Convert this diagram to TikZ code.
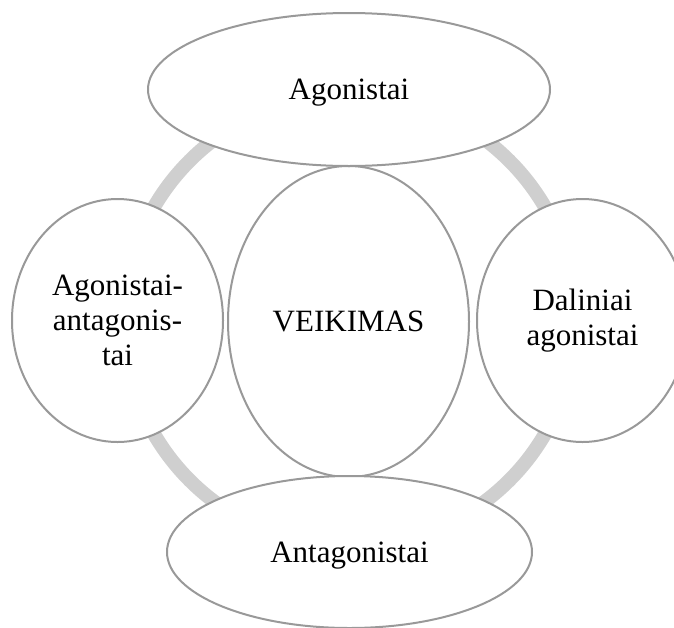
\documentclass[tikz,border=0pt]{standalone}
\usepackage{fontspec}
\setmainfont{Liberation Serif}
\usetikzlibrary{shapes.geometric}
\definecolor{ringgray}{HTML}{CFCFCF}
\definecolor{edgegray}{HTML}{999999}
\begin{document}
\begin{tikzpicture}[x=1pt,y=-1pt,
  ringline/.style={draw=ringgray,line width=14pt},
  bubble/.style={ellipse,draw=edgegray,line width=2pt,fill=white,inner sep=0pt,
    align=center,font=\fontsize{31}{35}\selectfont},
  oneline/.style={text depth=0pt}]
\useasboundingbox (0,0) rectangle (674,627);
\coordinate (hub) at (349.5,320.5);
\draw[ringline] (hub) circle (226);
\node[bubble,minimum width=241,minimum height=311] (center) at (348.5,321.5) {VEIKIMAS};
\node[bubble,oneline,minimum width=402,minimum height=153] (top) at (349,89.5) {Agonistai};
\node[bubble,minimum width=211,minimum height=243] (left) at (117.5,320.5) {Agonistai-\\antagonis-\\tai};
\node[bubble,minimum width=211,minimum height=243] (right) at (582.5,320.5) {Daliniai\\agonistai};
\node[bubble,oneline,minimum width=365,minimum height=152] (bottom) at (349.5,552) {Antagonistai};
\end{tikzpicture}
\end{document}
